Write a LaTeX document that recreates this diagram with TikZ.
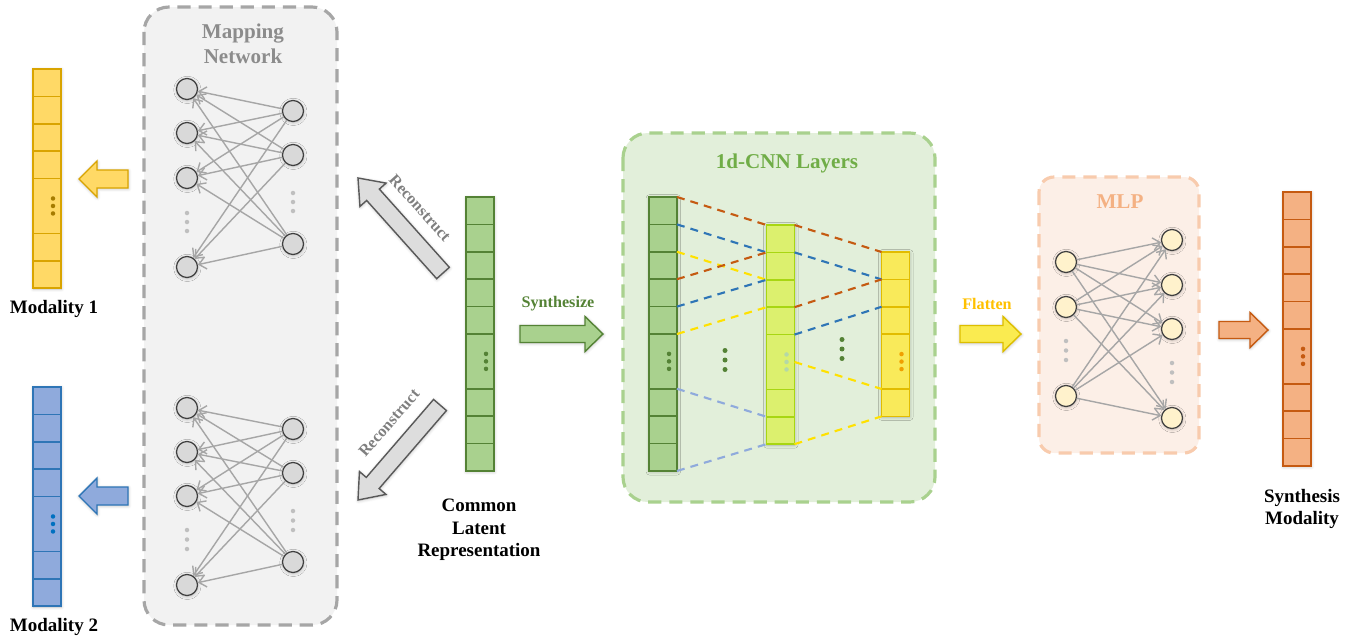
\documentclass[tikz,border=0pt]{standalone}
\usepackage{fontspec}
\setmainfont{Liberation Serif}
\usetikzlibrary{positioning}
\usetikzlibrary{calc}
\usetikzlibrary{arrows.meta}
\usetikzlibrary{shadows.blur}

\definecolor{mapfill}{HTML}{F2F2F2}
\definecolor{mapdraw}{HTML}{A6A6A6}
\definecolor{maptext}{HTML}{8C8C8C}
\definecolor{neuronfill}{HTML}{D9D9D9}
\definecolor{neurondraw}{HTML}{3F3F3F}
\definecolor{wiregray}{HTML}{A6A6A6}
\definecolor{dotgray}{HTML}{BFBFBF}
\definecolor{ybfill}{HTML}{FFD966}
\definecolor{ybdraw}{HTML}{D9A400}
\definecolor{ybdot}{HTML}{A67C00}
\definecolor{bbfill}{HTML}{8FAADC}
\definecolor{bbdraw}{HTML}{2E75B6}
\definecolor{bbdot}{HTML}{0070C0}
\definecolor{gbfill}{HTML}{A9D18E}
\definecolor{gbdraw}{HTML}{548235}
\definecolor{lbfill}{HTML}{DCF06E}
\definecolor{lbdraw}{HTML}{A8D612}
\definecolor{lbdot}{HTML}{B4D8A8}
\definecolor{tbfill}{HTML}{F9EA5A}
\definecolor{tbdraw}{HTML}{E2BC00}
\definecolor{tbdot}{HTML}{F0A000}
\definecolor{obfill}{HTML}{F4B183}
\definecolor{obdraw}{HTML}{C55A11}
\definecolor{cnnfill}{HTML}{E2EFDA}
\definecolor{cnntext}{HTML}{70AD47}
\definecolor{mlpboxfill}{HTML}{FCEFE7}
\definecolor{mlpboxdraw}{HTML}{F8CBAD}
\definecolor{mlpfill}{HTML}{FFF2CC}
\definecolor{recfill}{HTML}{DDDDDD}
\definecolor{recdraw}{HTML}{595959}
\definecolor{rectext}{HTML}{7F7F7F}
\definecolor{flatfill}{HTML}{FAEB50}
\definecolor{flatdraw}{HTML}{DDBE00}
\definecolor{flattext}{HTML}{FFC000}
\definecolor{korange}{HTML}{C55A11}
\definecolor{kblue}{HTML}{2E75B6}
\definecolor{kyellow}{HTML}{FFE100}
\definecolor{kperi}{HTML}{8FAADC}

\tikzset{
    >={Straight Barb[length=4pt,width=7pt]},
    softshadow/.style={blur shadow={shadow xshift=0.2pt, shadow yshift=-0.5pt,
        shadow blur radius=1.8pt, shadow blur steps=6, shadow opacity=25}},
    cell/.style={draw, line width=0.9pt, inner sep=0pt, outer sep=0pt,
        minimum width=0.56cm, minimum height=0.548cm},
    dotcell/.style={minimum height=1.096cm},
    yellowbar/.style={draw=ybdraw, fill=ybfill},
    bluebar/.style={draw=bbdraw, fill=bbfill},
    greenbar/.style={draw=gbdraw, fill=gbfill},
    limebar/.style={draw=lbdraw, fill=lbfill},
    goldbar/.style={draw=tbdraw, fill=tbfill},
    orangebar/.style={draw=obdraw, fill=obfill},
    neuron/.style={circle, draw=neurondraw, line width=0.7pt, fill=neuronfill,
        minimum size=0.42cm, inner sep=0pt, softshadow},
    mlpneuron/.style={neuron, fill=mlpfill},
    wire/.style={draw=wiregray, line width=0.8pt, ->},
    kernel/.style={dash pattern=on 4.5pt off 3.5pt, line width=1.2pt},
    netbox/.style={line width=1.8pt, dash pattern=on 7.5pt off 4.5pt},
    boxtitle/.style={font=\fontsize{12}{14.2}\selectfont\bfseries, align=center},
    captiontext/.style={font=\fontsize{10.8}{12.8}\selectfont\bfseries, align=center},
    arrowtext/.style={font=\fontsize{9.2}{11}\selectfont\bfseries},
    barrow/.style={line width=0.8pt, line join=miter, softshadow},
}

% #1 name, #2 top centre, #3 colours, #4 cells above the dots, #5 cells below, #6 dot colour
\newcommand{\featbar}[6]{%
  \node[cell, #3, anchor=north, minimum height={(#4+#5+2)*0.548cm}, softshadow] (#1) at (#2) {};
  \node[cell, #3, anchor=north] (#1-1) at (#2) {};
  \foreach \k [remember=\k as \p (initially 1)] in {2,...,#4}
    \node[cell, #3, below=0pt of #1-\p] (#1-\k) {};
  \node[cell, #3, dotcell, below=0pt of #1-#4] (#1-b0) {};
  \foreach \k [remember=\k as \p (initially 0)] in {1,...,#5}
    \node[cell, #3, below=0pt of #1-b\p] (#1-b\k) {};
  \foreach \d in {-1,0,1}
    \fill[#6] ($(#1-b0.center)+(6,7.5*\d)$) circle (0.045cm);
}

% #1 style, #2 tail, #3 tip, #4 shaft half width, #5 head half width, #6 head length
\newcommand{\blockarrow}[6]{%
  \path (#2) coordinate (ba-t) (#3) coordinate (ba-h);
  \path ($(ba-h)!#6!(ba-t)$) coordinate (ba-n);
  \draw[#1] ($(ba-t)!#4!90:(ba-h)$) -- ($(ba-n)!#4!90:(ba-h)$)
      -- ($(ba-n)!#5!90:(ba-h)$) -- (ba-h) -- ($(ba-n)!#5!-90:(ba-h)$)
      -- ($(ba-n)!#4!-90:(ba-h)$) -- ($(ba-t)!#4!-90:(ba-h)$) -- cycle;
}

\begin{document}
\begin{tikzpicture}[x=0.02cm, y=-0.02cm, font=\bfseries]
\useasboundingbox (0,0) rectangle (1352,639);

% mapping network
\draw[netbox, draw=mapdraw, fill=mapfill, rounded corners=0.5cm] (144,7) rectangle (337,625);
\node[boxtitle, text=maptext] (maptitle) at (243,44) {Mapping\\Network};

\foreach \y [count=\i] in {89,133,178,267}
    \node[neuron] (up-l\i) at (187,\y) {};
\foreach \y [count=\i] in {111,155,244}
    \node[neuron] (up-r\i) at (293,\y) {};
\foreach \y [count=\i] in {408,452,496,585}
    \node[neuron] (lo-l\i) at (187,\y) {};
\foreach \y [count=\i] in {429,473,562}
    \node[neuron] (lo-r\i) at (293,\y) {};
\foreach \i in {1,...,3}
    \foreach \j in {1,...,4} {
        \draw[wire] (up-r\i) -- (up-l\j);
        \draw[wire] (lo-r\i) -- (lo-l\j);
    }
\foreach \d in {0,1,2} {
    \fill[dotgray] (187,213+9*\d) circle (0.045cm);
    \fill[dotgray] (293,193+9*\d) circle (0.045cm);
    \fill[dotgray] (187,530+9.5*\d) circle (0.045cm);
    \fill[dotgray] (293,511+9.5*\d) circle (0.045cm);
}

% modalities
\featbar{mod1}{47,69}{yellowbar}{4}{2}{ybdot}
\featbar{mod2}{47,387}{bluebar}{4}{2}{bbdot}
\node[captiontext] (mod1-lab) at (54,309) {Modality 1};
\node[captiontext] (mod2-lab) at (54,627) {Modality 2};
\blockarrow{barrow, draw=ybdraw, fill=ybfill}{128,179}{79,179}{0.18cm}{0.36cm}{0.36cm}
\blockarrow{barrow, draw=bbdraw, fill=bbfill}{128,496}{79,496}{0.18cm}{0.36cm}{0.36cm}

% latent
\featbar{latent}{480,197}{greenbar}{5}{3}{gbdraw}
\node[captiontext] (latent-lab) at (479,530) {Common\\Latent\\Representation};
\blockarrow{barrow, draw=recdraw, fill=recfill}{443,273}{358,178}{0.17cm}{0.35cm}{0.45cm}
\blockarrow{barrow, draw=recdraw, fill=recfill}{440,405}{358,500}{0.17cm}{0.35cm}{0.45cm}
\node[arrowtext, text=rectext, rotate=-48] (rec-up) at (420,208) {Reconstruct};
\node[arrowtext, text=rectext, rotate=49] (rec-lo) at (389,423) {Reconstruct};
\blockarrow{barrow, draw=gbdraw, fill=gbfill}{520,334}{603,334}{0.17cm}{0.35cm}{0.36cm}
\node[arrowtext, text=gbdraw] (syn-lab) at (558,304) {Synthesize};

% 1d-CNN layers
\draw[netbox, draw=gbfill, fill=cnnfill, rounded corners=0.5cm] (623,133) rectangle (935,502);
\node[boxtitle, text=cnntext] (cnntitle) at (787,163) {1d-CNN Layers};
\featbar{l1}{663,197}{greenbar}{5}{3}{gbdraw}
\featbar{l2}{780.5,225}{limebar}{4}{2}{lbdot}
\featbar{l3}{895.5,252}{goldbar}{3}{1}{tbdot}

\draw[kernel, korange] (l1-1.north east) -- (l2-1.north west);
\draw[kernel, kblue] (l1-2.north east) -- (l2-2.north west);
\draw[kernel, kyellow] (l1-3.north east) -- (l2-3.north west);
\draw[kernel, korange] (l1-4.north east) -- (l2-2.north west);
\draw[kernel, kblue] (l1-5.north east) -- (l2-3.north west);
\draw[kernel, kyellow] (l1-b0.north east) -- (l2-4.north west);
\draw[kernel, kperi] (l1-b1.north east) -- (l2-b2.north west);
\draw[kernel, kperi] (l1-b3.south east) -- (l2-b2.south west);

\draw[kernel, korange] (l2-1.north east) -- (l3-1.north west);
\draw[kernel, kblue] (l2-2.north east) -- (l3-2.north west);
\draw[kernel, korange] (l2-4.north east) -- (l3-2.north west);
\draw[kernel, kblue] (l2-b0.north east) -- (l3-3.north west);
\draw[kernel, kyellow] (l2-b0.east) -- (l3-b1.north west);
\draw[kernel, kyellow] (l2-b2.south east) -- (l3-b1.south west);

\foreach \d in {-1,0,1} {
    \fill[gbdraw] (725,360+9.5*\d) circle (0.05cm);
    \fill[gbdraw] (842,349+9.5*\d) circle (0.05cm);
}

\blockarrow{barrow, draw=flatdraw, fill=flatfill}{960,334}{1021,334}{0.17cm}{0.35cm}{0.36cm}
\node[arrowtext, text=flattext] (flat-lab) at (987,304) {Flatten};

% MLP
\draw[netbox, draw=mlpboxdraw, fill=mlpboxfill, rounded corners=0.3cm] (1039,177) rectangle (1199,453);
\node[boxtitle, text=obfill] (mlptitle) at (1120,202) {MLP};
\foreach \y [count=\i] in {262,307,396}
    \node[mlpneuron] (mlp-l\i) at (1066,\y) {};
\foreach \y [count=\i] in {240,285,329,418}
    \node[mlpneuron] (mlp-r\i) at (1172,\y) {};
\foreach \i in {1,...,3}
    \foreach \j in {1,...,4}
        \draw[wire] (mlp-l\i) -- (mlp-r\j);
\foreach \d in {0,1,2} {
    \fill[dotgray] (1066,341+9.5*\d) circle (0.045cm);
    \fill[dotgray] (1172,363+9.5*\d) circle (0.045cm);
}

% output
\blockarrow{barrow, draw=obdraw, fill=obfill}{1219,330}{1268,330}{0.17cm}{0.35cm}{0.36cm}
\featbar{out}{1297,192}{orangebar}{5}{3}{obdraw}
\node[captiontext] (out-lab) at (1302,509) {Synthesis\\Modality};
\end{tikzpicture}
\end{document}
